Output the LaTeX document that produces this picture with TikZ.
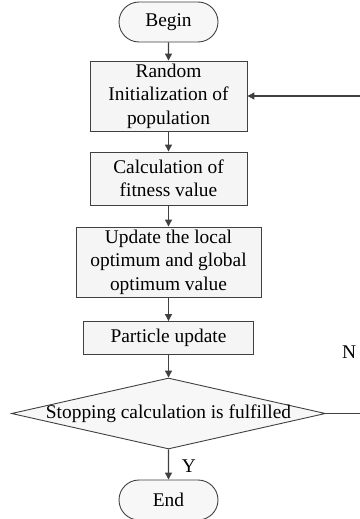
\documentclass[tikz,border=0pt]{standalone}
\usepackage{fontspec}
\setmainfont{Liberation Serif}
\usetikzlibrary{shapes.geometric,shapes.misc,arrows.meta}
\begin{document}
\begin{tikzpicture}[x=1pt,y=-1pt,
  every node/.style={font=\fontsize{19.4}{23.5}\selectfont, text=black},
  term/.style={draw=black!75, line width=0.9pt, fill=black!3, rounded rectangle, minimum width=99pt, minimum height=40pt, inner sep=0pt},
  procbox/.style={draw=black!75, line width=0.9pt, fill=black!4, align=center, inner sep=0pt},
  decis/.style={draw=black!75, line width=0.9pt, fill=black!3, diamond, aspect=4.4, inner sep=0pt, minimum width=314pt, minimum height=71pt},
  conn/.style={draw=black!75, line width=1.2pt, -{Triangle[length=7pt,width=7pt]}},
  plainline/.style={draw=black!75, line width=1.2pt},
  lab/.style={inner sep=0pt}
]
\useasboundingbox (0,0) rectangle (359,519);
\node[term] (begin) at (168.5,22) {Begin};
\node[procbox, minimum width=157pt, minimum height=70pt] (init) at (168.5,96) {Random\\Initialization of\\population};
\node[procbox, minimum width=157pt, minimum height=53pt] (fit) at (168.5,178.5) {Calculation of\\fitness value};
\node[procbox, minimum width=185pt, minimum height=70pt] (upd) at (168.5,262) {Update the local\\optimum and global\\optimum value};
\node[procbox, minimum width=170pt, minimum height=33pt] (part) at (168.5,338) {Particle update};
\node[decis] (stop) at (168.5,413.5) {\makebox[120pt][c]{Stopping calculation is fulfilled}};
\node[term] (end) at (168.5,500) {End};
\coordinate (nr) at (362,413.5);
\coordinate (ir) at (362,96);
\draw[conn] (begin) -- (init);
\draw[conn] (init) -- (fit);
\draw[conn] (fit) -- (upd);
\draw[conn] (upd) -- (part);
\draw[conn] (part) -- (stop);
\draw[conn] (stop) -- (end);
\draw[plainline] (stop.east) -- (nr);
\draw[plainline] (nr) -- (ir);
\draw[conn] (ir) -- (init.east);
\node[lab] (y) at (189,466) {Y};
\node[lab] (n) at (349,352) {N};
\end{tikzpicture}
\end{document}
